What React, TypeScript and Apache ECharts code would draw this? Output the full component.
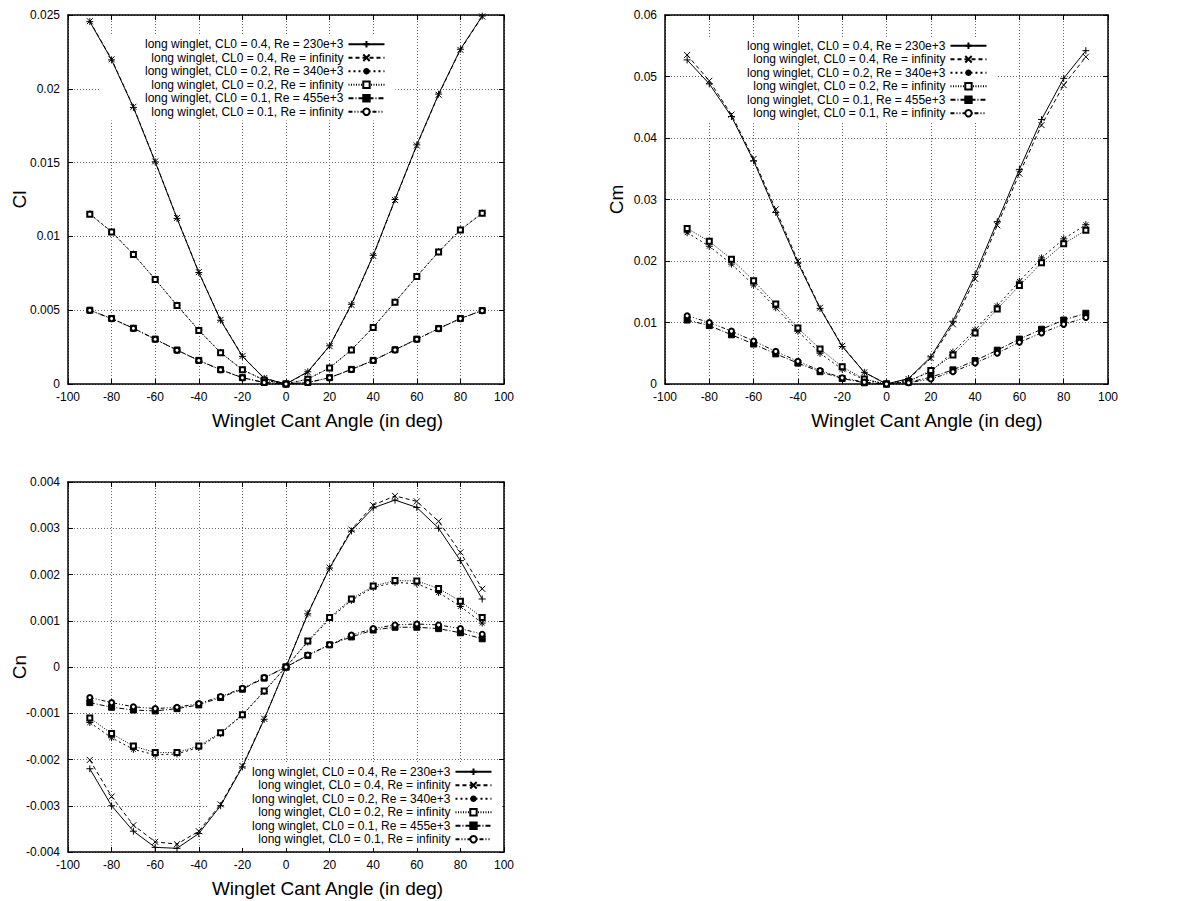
import React, { useEffect, useRef } from "react";
import * as echarts from "echarts";

const FONT = "'Liberation Sans', Arial, Helvetica, sans-serif";

const angles = [-90, -80, -70, -60, -50, -40, -30, -20, -10, 0, 10, 20, 30, 40, 50, 60, 70, 80, 90];
const xTicks = { min: -100, max: 100, interval: 20 };

const seriesNames = [
  "long winglet, CL0 = 0.4, Re = 230e+3",
  "long winglet, CL0 = 0.4, Re = infinity",
  "long winglet, CL0 = 0.2, Re = 340e+3",
  "long winglet, CL0 = 0.2, Re = infinity",
  "long winglet, CL0 = 0.1, Re = 455e+3",
  "long winglet, CL0 = 0.1, Re = infinity",
];

// Cl
const cl_04_230 = [0.02455, 0.02196, 0.01874, 0.01505, 0.01122, 0.00755, 0.00432, 0.00187, 0.00038, 0, 0.00083, 0.00259, 0.0054, 0.00872, 0.0125, 0.0162, 0.01964, 0.02268, 0.02493];
const cl_04_inf = [0.02458, 0.022, 0.01878, 0.01508, 0.01125, 0.00758, 0.00435, 0.00189, 0.0004, 0, 0.0008, 0.00256, 0.00536, 0.00868, 0.01246, 0.01616, 0.0196, 0.02264, 0.0249];
const cl_02_340 = [0.01153, 0.01032, 0.0088, 0.0071, 0.00534, 0.00365, 0.00214, 0.00097, 0.00027, 0, 0.00034, 0.0011, 0.00232, 0.00385, 0.00556, 0.0073, 0.00896, 0.01045, 0.01158];
const cl_02_inf = [0.0115, 0.0103, 0.00878, 0.00708, 0.00532, 0.00363, 0.00212, 0.00096, 0.00026, 0, 0.00033, 0.00109, 0.0023, 0.00383, 0.00554, 0.00728, 0.00894, 0.01043, 0.01156];
const cl_01_455 = [0.005, 0.00444, 0.00378, 0.00304, 0.0023, 0.0016, 0.00097, 0.00043, 0.0001, 0, 0.0001, 0.00043, 0.00099, 0.0016, 0.00232, 0.00304, 0.00376, 0.00444, 0.00498];
const cl_01_inf = [0.00499, 0.00443, 0.00377, 0.00303, 0.00229, 0.00159, 0.00096, 0.00042, 0.0001, 0, 0.0001, 0.00042, 0.00098, 0.00159, 0.00231, 0.00303, 0.00375, 0.00443, 0.00497];

// Cm
const cm_04_230 = [0.0527, 0.0488, 0.0435, 0.0363, 0.0279, 0.0197, 0.0123, 0.0061, 0.0019, 0, 0.0009, 0.0044, 0.0102, 0.0178, 0.0264, 0.0349, 0.043, 0.0497, 0.0542];
const cm_04_inf = [0.0535, 0.0493, 0.0438, 0.0366, 0.0284, 0.02, 0.0124, 0.0062, 0.0019, 0, 0.0008, 0.0042, 0.0097, 0.0171, 0.0258, 0.0342, 0.0421, 0.0486, 0.0532];
const cm_02_340 = [0.0246, 0.0224, 0.0195, 0.0161, 0.0124, 0.0086, 0.005, 0.0024, 0.0007, 0, 0.0005, 0.002, 0.0052, 0.0088, 0.0127, 0.0167, 0.0205, 0.0236, 0.0259];
const cm_02_inf = [0.0253, 0.0232, 0.0203, 0.0168, 0.013, 0.0091, 0.0057, 0.0028, 0.0008, 0, 0.0004, 0.0022, 0.0047, 0.0083, 0.0122, 0.016, 0.0197, 0.0228, 0.025];
const cm_01_455 = [0.0104, 0.0095, 0.008, 0.0065, 0.0049, 0.0034, 0.002, 0.0009, 0.0002, 0, 0.0003, 0.0011, 0.0023, 0.0038, 0.0055, 0.0073, 0.0089, 0.0104, 0.0115];
const cm_01_inf = [0.0111, 0.01, 0.0086, 0.007, 0.0053, 0.0037, 0.0022, 0.001, 0.0003, 0, 0.0002, 0.0008, 0.002, 0.0034, 0.005, 0.0068, 0.0083, 0.0097, 0.0108];

// Cn
const cn_04_230 = [-0.0022, -0.003, -0.00355, -0.0039, -0.00392, -0.0036, -0.003, -0.00216, -0.00113, 0, 0.00115, 0.00214, 0.00294, 0.00344, 0.00361, 0.00345, 0.003, 0.0023, 0.00147];
const cn_04_inf = [-0.00201, -0.0028, -0.00342, -0.00378, -0.00383, -0.00355, -0.00297, -0.00214, -0.00112, 0, 0.00116, 0.00215, 0.00297, 0.0035, 0.0037, 0.00358, 0.00315, 0.00248, 0.00169];
const cn_02_340 = [-0.0012, -0.00153, -0.00178, -0.0019, -0.00188, -0.00174, -0.00144, -0.00104, -0.00053, 0, 0.00054, 0.00104, 0.00144, 0.00172, 0.00183, 0.0018, 0.00161, 0.00131, 0.00095];
const cn_02_inf = [-0.0011, -0.00144, -0.00171, -0.00185, -0.00185, -0.00171, -0.00142, -0.00103, -0.00052, 0, 0.00056, 0.00107, 0.00147, 0.00175, 0.00187, 0.00186, 0.0017, 0.00142, 0.00107];
const cn_01_455 = [-0.00077, -0.00087, -0.00093, -0.00095, -0.0009, -0.00082, -0.00066, -0.00048, -0.00024, 0, 0.00025, 0.00048, 0.00065, 0.0008, 0.00086, 0.00086, 0.00083, 0.00074, 0.00061];
const cn_01_inf = [-0.00066, -0.00077, -0.00086, -0.0009, -0.00087, -0.00079, -0.00064, -0.00046, -0.00023, 0, 0.00026, 0.00048, 0.00069, 0.00083, 0.00091, 0.00093, 0.00091, 0.00083, 0.00071];

const clTicks = { min: 0, max: 0.025, interval: 0.005 };
const cmTicks = { min: 0, max: 0.06, interval: 0.01 };
const cnTicks = { min: -0.004, max: 0.004, interval: 0.001 };

const yTitles = ["Cl", "Cm", "Cn"];
const xTitle = "Winglet Cant Angle (in deg)";

const PLUS = "path://M5,0L5,10M0,5L10,5";
const CROSS = "path://M0,0L10,10M10,0L0,10";
const STAR = "path://M5,0L5,10M0,5L10,5M1.5,1.5L8.5,8.5M8.5,1.5L1.5,8.5";

const styles = [
  { symbol: PLUS, size: 7, line: "solid" as any },
  { symbol: CROSS, size: 6, line: [4, 3] },
  { symbol: STAR, size: 7, line: [2, 3] },
  { symbol: "emptyRect", size: 5, line: [1, 1.5] },
  { symbol: "rect", size: 6, line: [5, 2, 1, 2] },
  { symbol: "emptyCircle", size: 5, line: [4, 2, 1, 2, 1, 2] },
];

const grids = [
  { left: 68, top: 15, width: 436, height: 369 },
  { left: 665, top: 15, width: 443, height: 369 },
  { left: 68, top: 482, width: 436, height: 370 },
];

const legendPos = [
  { left: 101, top: 35.5 },
  { left: 703, top: 37 },
  { left: 208, top: 763 },
];

export default function App() {
  const ref = useRef<HTMLDivElement>(null);
  useEffect(() => {
    if (!ref.current) return;
    const chart = echarts.init(ref.current, null, { renderer: "svg" });
    const dataSets = [
      [cl_04_230, cl_04_inf, cl_02_340, cl_02_inf, cl_01_455, cl_01_inf],
      [cm_04_230, cm_04_inf, cm_02_340, cm_02_inf, cm_01_455, cm_01_inf],
      [cn_04_230, cn_04_inf, cn_02_340, cn_02_inf, cn_01_455, cn_01_inf],
    ];
    const yT = [clTicks, cmTicks, cnTicks];
    const xAxis: any[] = [];
    const yAxis: any[] = [];
    const axisLine = { show: true, onZero: false, lineStyle: { color: "#000", width: 1.5 } };
    const tick = { show: true, inside: true, length: 5, lineStyle: { color: "#000", width: 1 } };
    const split = { show: true, lineStyle: { color: "#666", width: 1, type: [1, 2] } };
    const label = { color: "#000", fontSize: 12, fontFamily: FONT };
    for (let g = 0; g < 3; g++) {
      xAxis.push({
        type: "value", gridIndex: g, position: "bottom", ...xTicks,
        axisLine, axisTick: tick, splitLine: split,
        axisLabel: { ...label, margin: 7 },
      });
      yAxis.push({
        type: "value", gridIndex: g, position: "left", ...yT[g],
        axisLine, axisTick: tick, splitLine: split,
        axisLabel: { ...label, margin: 8 },
      });
    }
    for (let g = 0; g < 3; g++) {
      xAxis.push({
        type: "value", gridIndex: g, position: "top", ...xTicks,
        axisLine, axisTick: tick, splitLine: { show: false }, axisLabel: { show: false },
      });
      yAxis.push({
        type: "value", gridIndex: g, position: "right", ...yT[g],
        axisLine, axisTick: tick, splitLine: { show: false }, axisLabel: { show: false },
      });
    }
    const series: any[] = [];
    for (let g = 0; g < 3; g++) {
      for (let s = 0; s < 6; s++) {
        const st = styles[s];
        series.push({
          type: "line",
          name: seriesNames[s],
          xAxisIndex: g,
          yAxisIndex: g,
          data: angles.map((a, i) => [a, dataSets[g][s][i]]),
          symbol: st.symbol,
          symbolSize: st.size,
          showAllSymbol: true,
          lineStyle: { color: "#000", width: 1, type: st.line },
          itemStyle: { color: "#000", borderColor: "#000", borderWidth: 1 },
          emphasis: { disabled: true },
          z: 3,
        });
      }
    }
    const legend = legendPos.map((p) => ({
      show: true,
      orient: "vertical",
      align: "right",
      left: p.left,
      top: p.top,
      padding: [2, 10, 2, 44],
      backgroundColor: "#fff",
      itemWidth: 36,
      itemHeight: 8,
      itemGap: 0,
      selectedMode: false,
      data: seriesNames,
      textStyle: { color: "#000", fontSize: 12, fontFamily: FONT, lineHeight: 13.5 },
      z: 1,
    }));
    const titleStyle = { fill: "#000", fontSize: 19, fontFamily: FONT };
    const graphic: any[] = [];
    grids.forEach((gr, g) => {
      const cy = gr.top + gr.height / 2;
      // x title starts near -34 deg on each panel
      const startX = gr.left + (66 / 200) * gr.width;
      graphic.push({
        type: "text", x: startX, y: gr.top + gr.height + 36,
        style: { ...titleStyle, text: xTitle, align: "left", verticalAlign: "middle" },
      });
      graphic.push({
        type: "text", x: gr.left - 49, y: cy, rotation: Math.PI / 2,
        style: { ...titleStyle, text: yTitles[g], align: "center", verticalAlign: "middle" },
      });
    });
    chart.setOption({
      animation: false,
      backgroundColor: "#fff",
      grid: grids.map((g) => ({ ...g, containLabel: false })),
      xAxis,
      yAxis,
      series,
      legend,
      graphic,
    });
    return () => chart.dispose();
  }, []);
  return (
    <div
      ref={ref}
      style={{ position: "absolute", left: 0, top: 0, width: 1200, height: 901 }}
    />
  );
}
